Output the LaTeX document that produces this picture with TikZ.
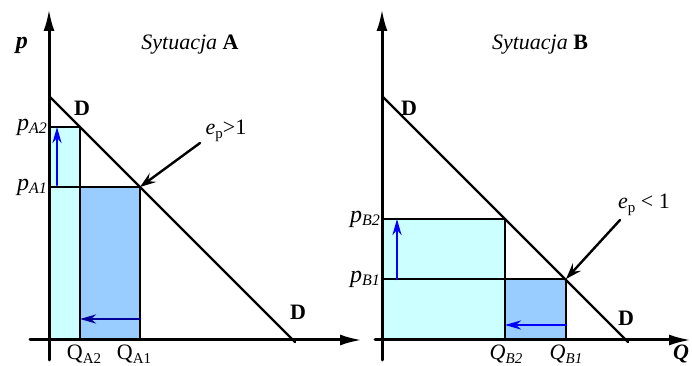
\documentclass[tikz,border=0pt]{standalone}
\usepackage{fontspec}
\setmainfont{Liberation Serif}
\usepackage{tikz}
\usetikzlibrary{arrows.meta}
\usepackage{tkz-euclide}
\usepackage{xcolor}
\definecolor{cyanfill}{RGB}{204,255,255}
\definecolor{bluefill}{RGB}{153,204,255}
\definecolor{navyarrow}{RGB}{0,0,150}
\newcommand{\idx}[2]{{\fontsize{24}{26}\selectfont\textit{#1}}\raisebox{-0.35ex}{\fontsize{16}{16}\selectfont\textit{#2}}}
\newcommand{\ep}[1]{\textit{e}\raisebox{-0.35ex}{\fontsize{15}{15}\selectfont p}#1}

\begin{document}
\begin{tikzpicture}[x=10pt, y=10pt, font=\fontsize{22}{26}\selectfont,
    axisline/.style={line width=3pt, -{Latex[length=22pt,width=11pt]}},
    demand/.style={line width=2.4pt},
    rectline/.style={line width=1.8pt},
    movearrow/.style={line width=2.6pt, -{Stealth[length=16pt,width=9pt,inset=5pt]}},
    pointer/.style={line width=2.4pt, -{Stealth[length=16pt,width=11pt,inset=6pt]}},
    dlabel/.style={font=\fontsize{22}{24}\selectfont\bfseries},
    qlabel/.style={anchor=base, inner sep=0pt}]
            \useasboundingbox (0,0) rectangle (69.2,36.6);
            % situation A
            \tkzDefPoints{4.9/2.6/OA, 4.9/35.7/YA, 4.9/0.6/ZA, 3.0/2.6/WA, 36.2/2.6/XA,
                          4.9/27.0/DA, 29.5/2.4/EA, 4.9/23.9/PA2, 8.0/23.9/KA2,
                          4.9/17.9/PA1, 14.0/17.9/KA1, 8.0/2.6/QA2, 14.0/2.6/QA1,
                          5.7/18.1/UA, 5.7/23.9/VA, 14.0/4.7/LA, 8.0/4.7/MA,
                          20.0/22.3/SA}
            \fill[cyanfill] (OA) rectangle (KA2);
            \fill[bluefill] (QA2) rectangle (KA1);
            \tkzDrawSegments[rectline](PA2,KA2 KA2,QA2 PA1,KA1 KA1,QA1)
            \tkzDrawSegments[demand](DA,EA)
            \tkzDrawSegments[axisline](ZA,YA WA,XA)
            \tkzDrawSegments[movearrow, blue](UA,VA)
            \tkzDrawSegments[movearrow, navyarrow](LA,MA)
            \tkzDrawSegments[pointer](SA,KA1)
            \node[font=\fontsize{24}{26}\selectfont\bfseries\itshape] (pA) at (2.2,32.1) {p};
            \node (titleA) at (19.0,32.1) {\textit{Sytuacja} \textbf{A}};
            \node[dlabel] (dA1) at (8.2,25.8) {D};
            \node[dlabel] (dA2) at (29.8,5.4) {D};
            \node (eA) at (22.6,23.5) {\ep{>1}};
            \node[left, inner sep=2pt] (lA2) at (PA2) {\idx{p}{A2}};
            \node[left, inner sep=2pt] (lA1) at (PA1) {\idx{p}{A1}};
            \node[qlabel] (qA2) at (8.4,0.6) {Q\raisebox{-0.35ex}{\fontsize{15}{15}\selectfont A2}};
            \node[qlabel] (qA1) at (13.4,0.6) {Q\raisebox{-0.35ex}{\fontsize{15}{15}\selectfont A1}};
            % situation B
            \tkzDefPoints{38.2/2.6/OB, 38.2/35.7/YB, 38.2/0.6/ZB, 37.5/2.6/WB, 69.1/2.6/XB,
                          38.2/27.0/DB, 62.8/2.4/EB, 38.2/14.7/PB2, 50.5/14.7/KB2,
                          38.2/8.7/PB1, 56.6/8.7/KB1, 50.5/2.6/QB2, 56.6/2.6/QB1,
                          39.7/8.7/UB, 39.7/14.7/VB, 56.6/4.1/LB, 50.5/4.1/MB,
                          62.0/14.6/SB}
            \fill[cyanfill] (OB) rectangle (KB2);
            \fill[bluefill] (QB2) rectangle (KB1);
            \tkzDrawSegments[rectline](PB2,KB2 KB2,QB2 PB1,KB1 KB1,QB1)
            \tkzDrawSegments[demand](DB,EB)
            \tkzDrawSegments[axisline](ZB,YB WB,XB)
            \tkzDrawSegments[movearrow, blue](UB,VB)
            \tkzDrawSegments[movearrow, blue](LB,MB)
            \tkzDrawSegments[pointer](SB,KB1)
            \node (titleB) at (54.0,32.1) {\textit{Sytuacja} \textbf{B}};
            \node[dlabel] (dB1) at (40.9,25.8) {D};
            \node[dlabel] (dB2) at (62.6,4.8) {D};
            \node (eB) at (64.4,16.1) {\ep{ < 1}};
            \node[left, inner sep=2pt] (lB2) at (PB2) {\idx{p}{B2}};
            \node[left, inner sep=2pt] (lB1) at (PB1) {\idx{p}{B1}};
            \node[qlabel] (qB2) at (50.6,0.6) {\textit{Q}\raisebox{-0.35ex}{\fontsize{15}{15}\selectfont\textit{B2}}};
            \node[qlabel] (qB1) at (56.6,0.6) {\textit{Q}\raisebox{-0.35ex}{\fontsize{15}{15}\selectfont\textit{B1}}};
            \node[qlabel, font=\fontsize{22}{26}\selectfont\bfseries\itshape] (qB) at (68.1,0.6) {Q};
        \end{tikzpicture}
\end{document}
